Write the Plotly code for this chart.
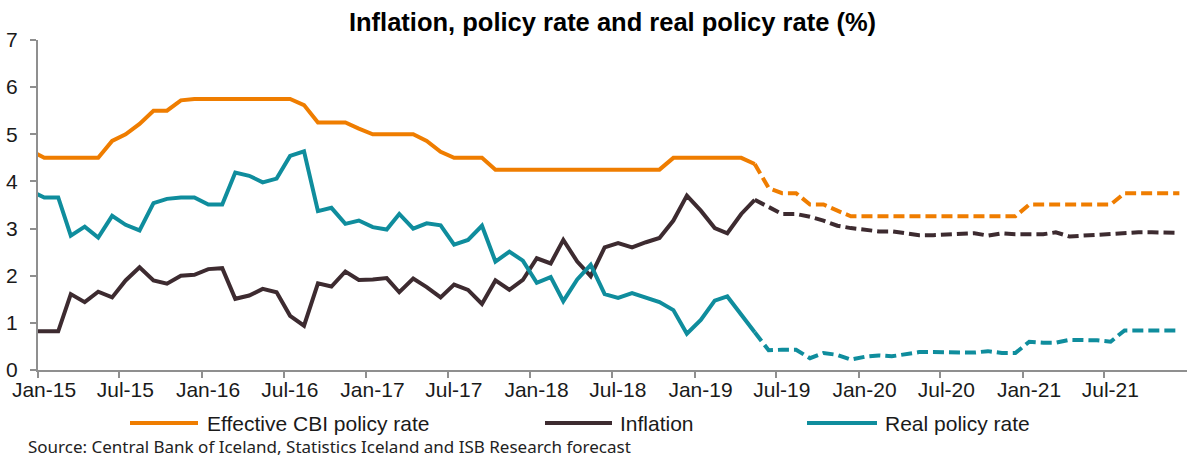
import pandas as pd
import plotly.graph_objects as go

# ---- data (%, monthly, plotted mid-month) ----
# Actual: Dec-2014 .. May-2019
actual_months = pd.date_range("2014-12-01", "2019-05-01", freq="MS") + pd.Timedelta(days=14)
# Forecast: May-2019 .. Dec-2021 (starts at last actual month)
forecast_months = pd.date_range("2019-05-01", "2021-12-01", freq="MS") + pd.Timedelta(days=14)

policy_actual = [
    4.66,
    4.5, 4.5, 4.5, 4.5, 4.5, 4.86, 5.0, 5.22, 5.5, 5.5, 5.72, 5.75,
    5.75, 5.75, 5.75, 5.75, 5.75, 5.75, 5.75, 5.62, 5.25, 5.25, 5.25, 5.12,
    5.0, 5.0, 5.0, 5.0, 4.86, 4.63, 4.5, 4.5, 4.5, 4.25, 4.25, 4.25,
    4.25, 4.25, 4.25, 4.25, 4.25, 4.25, 4.25, 4.25, 4.25, 4.25, 4.5, 4.5,
    4.5, 4.5, 4.5, 4.5, 4.37,
]
policy_forecast = [
    4.37, 3.86, 3.75, 3.75, 3.51, 3.51, 3.38, 3.26,
    3.26, 3.26, 3.26, 3.26, 3.26, 3.26, 3.26, 3.26, 3.26, 3.26, 3.26, 3.26,
    3.51, 3.51, 3.51, 3.51, 3.51, 3.51, 3.51, 3.75, 3.75, 3.75, 3.75, 3.75,
]

inflation_actual = [
    0.82,
    0.82, 0.82, 1.61, 1.44, 1.66, 1.54, 1.90, 2.18, 1.90, 1.83, 2.00, 2.02,
    2.14, 2.16, 1.51, 1.58, 1.72, 1.65, 1.15, 0.94, 1.84, 1.77, 2.09, 1.91,
    1.92, 1.95, 1.65, 1.94, 1.76, 1.54, 1.81, 1.70, 1.40, 1.90, 1.70, 1.91,
    2.37, 2.26, 2.76, 2.30, 1.99, 2.60, 2.69, 2.60, 2.71, 2.80, 3.17, 3.70,
    3.38, 3.01, 2.90, 3.31, 3.61,
]
inflation_forecast = [
    3.61, 3.45, 3.31, 3.31, 3.25, 3.17, 3.06, 3.01,
    2.97, 2.94, 2.94, 2.90, 2.86, 2.86, 2.87, 2.88, 2.90, 2.85, 2.90, 2.88,
    2.88, 2.88, 2.92, 2.83, 2.85, 2.87, 2.88, 2.90, 2.92, 2.92, 2.91, 2.91,
]

real_actual = [
    3.80,
    3.66, 3.66, 2.85, 3.04, 2.81, 3.27, 3.08, 2.96, 3.54, 3.63, 3.66, 3.66,
    3.51, 3.51, 4.19, 4.12, 3.98, 4.06, 4.54, 4.64, 3.37, 3.44, 3.10, 3.17,
    3.03, 2.98, 3.31, 3.00, 3.11, 3.07, 2.66, 2.76, 3.06, 2.30, 2.51, 2.32,
    1.85, 1.97, 1.46, 1.92, 2.23, 1.61, 1.53, 1.63, 1.54, 1.44, 1.27, 0.77,
    1.06, 1.47, 1.56, 1.19, 0.80,
]
real_forecast = [
    0.80, 0.42, 0.43, 0.43, 0.25, 0.36, 0.32, 0.22,
    0.28, 0.31, 0.29, 0.34, 0.38, 0.38, 0.38, 0.36, 0.37, 0.40, 0.36, 0.36,
    0.60, 0.58, 0.58, 0.64, 0.64, 0.63, 0.60, 0.84, 0.84, 0.84, 0.84, 0.84,
]

series_names = ["Effective CBI policy rate", "Inflation", "Real policy rate"]
tick_dates = pd.date_range("2015-01-01", "2021-07-01", freq="6MS")
y_ticks = [0, 1, 2, 3, 4, 5, 6, 7]

# ---- styling ----
COLORS = ["#EF7D00", "#3D2B30", "#0F8D9D"]
FONT = "Liberation Sans, Arial, sans-serif"
AXIS_GREY = "#8F8F8F"
W, H = 1187, 457
L, R, T, B = 38, 0, 40, 87


def paper_x(px):
    return (px - L) / (W - L - R)


def paper_y(py):
    return (H - B - py) / (H - T - B)


fig = go.Figure()
pairs = [
    (policy_actual, policy_forecast),
    (inflation_actual, inflation_forecast),
    (real_actual, real_forecast),
]
for name, color, (act, fc) in zip(series_names, COLORS, pairs):
    fig.add_trace(go.Scatter(
        x=actual_months, y=act, mode="lines", name=name,
        line=dict(color=color, width=4), showlegend=False,
    ))
    fig.add_trace(go.Scatter(
        x=forecast_months, y=fc, mode="lines", name=name + " (forecast)",
        line=dict(color=color, width=4, dash="11px,5px"), showlegend=False,
    ))

# hand-built legend row below the axis
legend_items = [
    (series_names[0], COLORS[0], 130, 198, 205),
    (series_names[1], COLORS[1], 545, 612, 618),
    (series_names[2], COLORS[2], 807, 877, 883),
]
shapes = []
annotations = []
LEG_Y = 423
for text, color, x0, x1, tx in legend_items:
    shapes.append(dict(
        type="line", xref="paper", yref="paper",
        x0=paper_x(x0), x1=paper_x(x1), y0=paper_y(LEG_Y), y1=paper_y(LEG_Y),
        line=dict(color=color, width=4),
    ))
    annotations.append(dict(
        xref="paper", yref="paper", x=paper_x(tx), y=paper_y(LEG_Y),
        xanchor="left", yanchor="middle", showarrow=False, text=text,
        font=dict(family=FONT, size=21, color="#1A1A1A"),
    ))

annotations.append(dict(
    xref="paper", yref="paper", x=paper_x(26), y=paper_y(446),
    xanchor="left", yanchor="middle", showarrow=False,
    text="Source: Central Bank of Iceland, Statistics Iceland and ISB Research forecast",
    font=dict(family="Noto Sans, sans-serif", size=17, color="#222222"),
))

fig.update_layout(
    width=W, height=H,
    margin=dict(l=L, r=R, t=T, b=B, pad=0),
    paper_bgcolor="white", plot_bgcolor="white",
    title=dict(
        text="<b>Inflation, policy rate and real policy rate (%)</b>",
        x=0.5, xref="paper", xanchor="center",
        y=1 - 22 / H, yref="container", yanchor="middle",
        font=dict(family=FONT, size=25.5, color="#000000"),
    ),
    shapes=shapes,
    annotations=annotations,
)
fig.update_xaxes(
    type="date",
    range=["2015-01-01", "2022-01-01"],
    tickvals=tick_dates, tickformat="%b-%y",
    showline=True, linecolor=AXIS_GREY, linewidth=2,
    ticks="outside", ticklen=6, tickcolor=AXIS_GREY, tickwidth=2,
    showgrid=False, zeroline=False,
    tickfont=dict(family=FONT, size=21, color="#1A1A1A"),
    ticklabelshift=6,
    ticklabelstandoff=-6,
)
fig.update_yaxes(
    range=[0, 7], tickvals=y_ticks,
    showline=True, linecolor=AXIS_GREY, linewidth=2,
    ticks="outside", ticklen=6, tickcolor=AXIS_GREY, tickwidth=2,
    showgrid=False, zeroline=False,
    tickfont=dict(family=FONT, size=21, color="#1A1A1A"),
    ticklabelstandoff=8,
)

fig.write_html("out.html")
